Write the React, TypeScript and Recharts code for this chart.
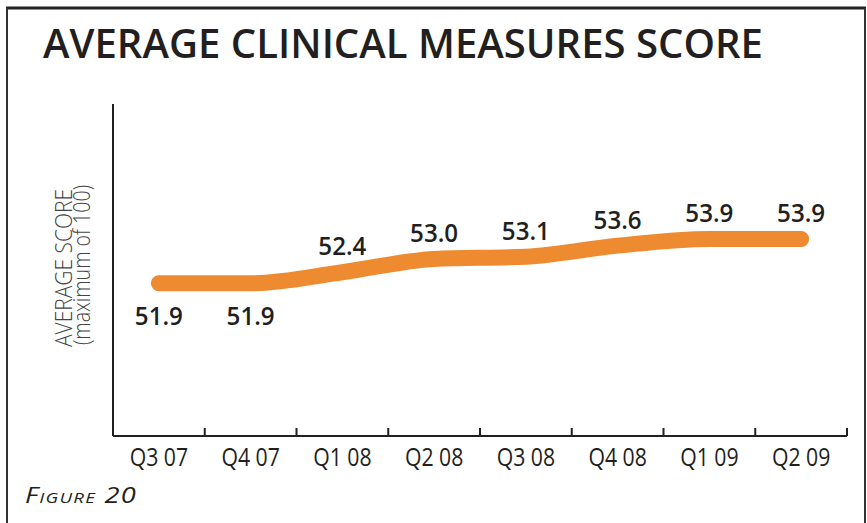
import React from "react";
import { LineChart, Line, XAxis, YAxis, LabelList } from "recharts";

const quarters = ["Q3 07", "Q4 07", "Q1 08", "Q2 08", "Q3 08", "Q4 08", "Q1 09", "Q2 09"];
const scores = [51.9, 51.9, 52.4, 53.0, 53.1, 53.6, 53.9, 53.9];
const yDomain = [45, 60];

const data = quarters.map((q, i) => ({ quarter: q, score: scores[i] }));

const W = 867;
const H = 523;
const X_AXIS_H = 40;
const Y_AXIS_W = 1;
const margin = { top: 104, right: 20, bottom: 47, left: 112 };
const step = (W - margin.left - Y_AXIS_W - margin.right) / quarters.length;
const axisY = H - margin.bottom - X_AXIS_H;

const INK = "#231F20";
const ORANGE = "#EE8B30";
const FONT = "'Open Sans', 'DejaVu Sans', sans-serif";

const QuarterTick = (props: any) => {
  const { x, payload } = props;
  return (
    <g>
      <line x1={x + step / 2} x2={x + step / 2} y1={axisY} y2={axisY - 8} stroke={INK} strokeWidth={2} />
      <text
        transform={`translate(${x},${axisY + 30}) scale(0.85,1)`}
        textAnchor="middle"
        fontFamily={FONT}
        fontSize={25}
        fill={INK}
      >
        {payload.value}
      </text>
    </g>
  );
};

const ScoreLabel = (props: any) => {
  const { x, y, value, index } = props;
  // first two points carry their label underneath the line
  const below = index < 2;
  return (
    <text
      transform={`translate(${x},${below ? y + 42 : y - 17}) scale(0.93,1)`}
      textAnchor="middle"
      fontFamily={FONT}
      fontWeight={600}
      fontSize={26}
      fill={INK}
    >
      {value.toFixed(1)}
    </text>
  );
};

export default function App() {
  return (
    <div style={{ position: "absolute", left: 0, top: 0, width: W, height: H, background: "#fff" }}>
      <LineChart width={W} height={H} data={data} margin={margin}>
        <XAxis
          dataKey="quarter"
          height={X_AXIS_H}
          padding={{ left: step / 2, right: step / 2 }}
          axisLine={{ stroke: INK, strokeWidth: 2 }}
          tickLine={false}
          tickSize={0}
          tickMargin={0}
          tick={<QuarterTick />}
          interval={0}
        />
        <YAxis
          domain={yDomain}
          width={Y_AXIS_W}
          tick={false}
          tickLine={false}
          axisLine={{ stroke: INK, strokeWidth: 2 }}
        />
        <Line
          type="monotone"
          dataKey="score"
          stroke={ORANGE}
          strokeWidth={16}
          strokeLinecap="round"
          strokeLinejoin="round"
          dot={false}
          activeDot={false}
          isAnimationActive={false}
        >
          <LabelList dataKey="score" content={<ScoreLabel />} />
        </Line>
      </LineChart>
      <svg
        width={W}
        height={H}
        style={{ position: "absolute", left: 0, top: 0, pointerEvents: "none" }}
      >
        <line x1={6} x2={866} y1={8} y2={8} stroke="#222" strokeWidth={3} />
        <line x1={7} x2={7} y1={8} y2={H} stroke="#333" strokeWidth={2} />
        <line x1={865} x2={865} y1={8} y2={H} stroke="#333" strokeWidth={2} />
        <text
          x={43}
          y={58}
          fontFamily={FONT}
          fontWeight={600}
          fontSize={40}
          fill={INK}
          textLength={720}
          lengthAdjust="spacingAndGlyphs"
        >
          AVERAGE CLINICAL MEASURES SCORE
        </text>
        <text
          transform="translate(72,268) rotate(-90)"
          textAnchor="middle"
          fontFamily={FONT}
          fontWeight={300}
          fontSize={23}
          fill="#444"
          textLength={158}
          lengthAdjust="spacingAndGlyphs"
        >
          AVERAGE SCORE
        </text>
        <text
          transform="translate(90,265) rotate(-90)"
          textAnchor="middle"
          fontFamily={FONT}
          fontWeight={300}
          fontSize={23}
          fill="#444"
          textLength={160}
          lengthAdjust="spacingAndGlyphs"
        >
          (maximum of 100)
        </text>
        <text
          x={25}
          y={503}
          fontFamily={FONT}
          fontStyle="italic"
          fontSize={22}
          fill={INK}
          style={{ fontVariant: "small-caps", letterSpacing: 1 }}
          textLength={112}
          lengthAdjust="spacingAndGlyphs"
        >
          Figure 20
        </text>
      </svg>
    </div>
  );
}
